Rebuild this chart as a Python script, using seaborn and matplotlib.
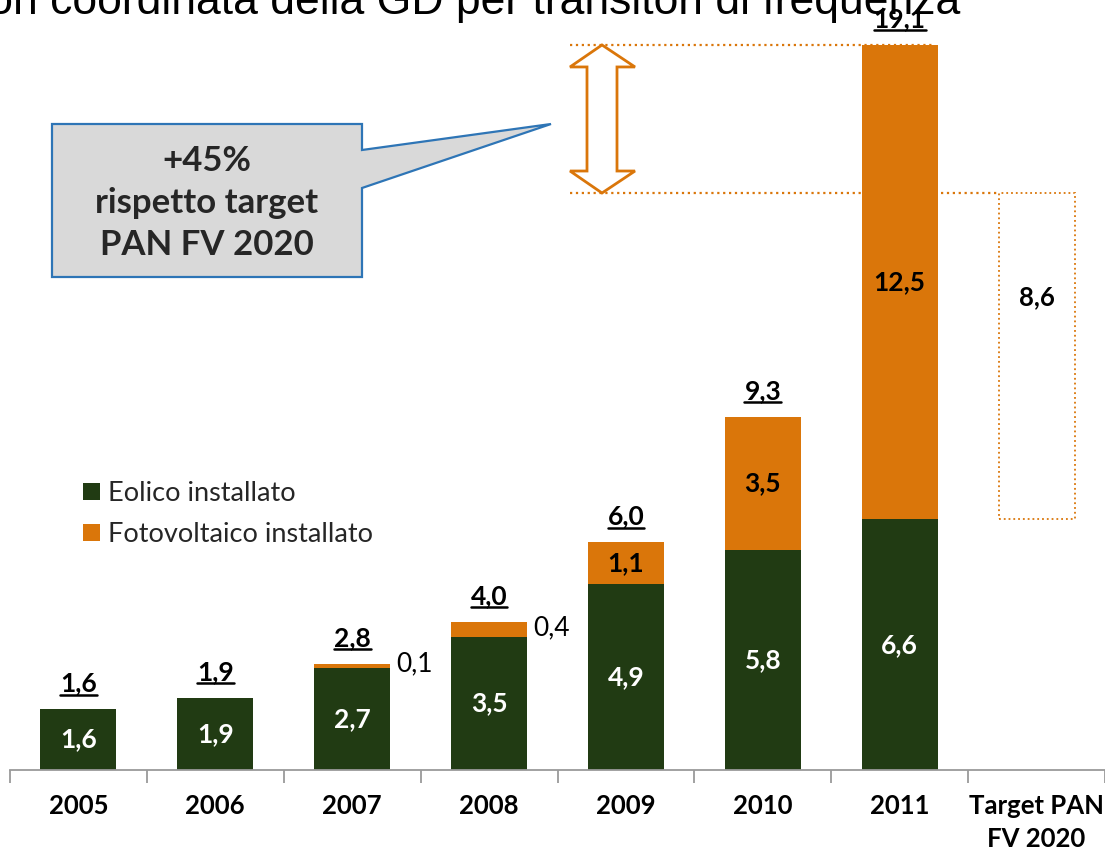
import matplotlib
matplotlib.use("Agg")
import matplotlib.pyplot as plt
import matplotlib.transforms as mtransforms
from matplotlib.patches import Polygon, Patch
from matplotlib.lines import Line2D
import seaborn as sns
import pandas as pd

# ---------------- data ----------------
categories = ["2005", "2006", "2007", "2008", "2009", "2010", "2011", "Target PAN\nFV 2020"]
eolico = [1.6, 1.9, 2.7, 3.5, 4.9, 5.8, 6.6, 0.0]
fotovoltaico = [0.0, 0.0, 0.1, 0.4, 1.1, 3.5, 12.5, 0.0]
total_labels = ["1,6", "1,9", "2,8", "4,0", "6,0", "9,3", "19,1"]
eolico_labels = ["1,6", "1,9", "2,7", "3,5", "4,9", "5,8", "6,6"]
fv_labels = ["", "", "0,1", "0,4", "1,1", "3,5", "12,5"]
target_base = 6.6
target_value = 8.6
target_label = "8,6"
series_names = ["Eolico installato", "Fotovoltaico installato"]
callout_text = "+45%\nrispetto target\nPAN FV 2020"
title_text = "Disconnessione non coordinata della GD per transitori di frequenza"

GREEN = "#213B13"
ORANGE = "#DA760A"
FONT = "Lato"

W, H = 1105, 852
sns.set_theme(style="white")
plt.rcParams["font.family"] = [FONT, "DejaVu Sans"]

fig = plt.figure(figsize=(W / 100, H / 100), dpi=100)
ax = fig.add_axes([10 / W, 1 - 770 / H, 1095 / W, 770 / H])

df = pd.DataFrame({
    "cat": categories,
    "tot": [e + f for e, f in zip(eolico, fotovoltaico)],
    "eol": eolico,
})
sns.barplot(data=df, x="cat", y="tot", order=categories, color=ORANGE,
            saturation=1, width=0.555, linewidth=0, ax=ax, errorbar=None)
sns.barplot(data=df, x="cat", y="eol", order=categories, color=GREEN,
            saturation=1, width=0.555, linewidth=0, ax=ax, errorbar=None)

# target floating box
ax.bar(7, target_value, bottom=target_base, width=0.555, fill=False,
       edgecolor=ORANGE, linestyle=":", linewidth=1.3)
ax.text(7, target_base + target_value * 0.68, target_label, ha="center", va="center",
        fontsize=18.5, fontweight="bold", color="black")

ax.set_ylim(0, 770 / 37.96)
ax.set_xlim(-0.5, 7.5)
ax.set_xlabel("")
ax.set_ylabel("")
ax.set_yticks([])
for s in ["left", "right", "top"]:
    ax.spines[s].set_visible(False)
ax.spines["bottom"].set_color("#9A9A9A")
ax.spines["bottom"].set_linewidth(1.3)
ax.set_xticks(range(len(categories)))
ax.set_xticklabels(categories, fontsize=18.5, fontweight="bold", linespacing=1.45)
ax.set_xticks([i - 0.5 for i in range(len(categories) + 1)], minor=True)
ax.tick_params(axis="x", which="major", length=0, pad=17, colors="black")
ax.tick_params(axis="x", which="minor", length=9, width=1.3, color="#9A9A9A",
               direction="out", bottom=True)
ax.patch.set_alpha(0)

# labels
totals = []
for i in range(7):
    e, f = eolico[i], fotovoltaico[i]
    ax.text(i, e / 2, eolico_labels[i], ha="center", va="center", color="white",
            fontsize=19, fontweight="bold")
    if f >= 1:
        ax.text(i, e + f / 2, fv_labels[i], ha="center", va="center", color="black",
                fontsize=19, fontweight="bold")
    elif f > 0:
        ax.text(i + 0.32, e + f / 2 + 0.05, fv_labels[i], ha="left", va="center",
                color="black", fontsize=19)
    t = ax.text(i, e + f + 0.36, total_labels[i], ha="center", va="bottom",
                color="black", fontsize=19, fontweight="bold")
    totals.append(t)

# pixel-x / data-y transform
px_x = mtransforms.Affine2D().scale(1 / W, 1) + fig.transFigure
blend = mtransforms.blended_transform_factory(px_x, ax.transData)
top_v = sum([eolico[6], fotovoltaico[6]])
tgt_v = target_base + target_value
ax.plot([570, 935], [top_v, top_v], transform=blend, color=ORANGE, ls=":", lw=1.6)
ax.plot([570, 998], [tgt_v, tgt_v], transform=blend, color=ORANGE, ls=":", lw=1.6)

hh = 22 / 37.96
arrow = [(602, top_v), (635, top_v - hh), (617, top_v - hh), (617, tgt_v + hh),
         (635, tgt_v + hh), (602, tgt_v), (570, tgt_v + hh), (587, tgt_v + hh),
         (587, top_v - hh), (570, top_v - hh)]
ax.add_patch(Polygon(arrow, closed=True, transform=blend, facecolor="white",
                     edgecolor=ORANGE, linewidth=2, clip_on=False, zorder=5))

# callout in figure pixels (y from top)
pix = mtransforms.Affine2D().scale(1 / W, -1 / H).translate(0, 1) + fig.transFigure
call = [(52, 124), (362, 124), (362, 150), (551, 124), (362, 188), (362, 277), (52, 277)]
fig.add_artist(Polygon(call, closed=True, transform=pix, facecolor="#D9D9D9",
                       edgecolor="#2E75B6", linewidth=1.6))
fig.text(207 / W, 1 - 203 / H, callout_text, ha="center", va="center", fontsize=25,
         fontweight="bold", linespacing=1.4)

# clipped title
fig.text(960 / W, 1 - 14 / H, title_text, ha="right", va="baseline", fontsize=32,
         family="Liberation Sans", color="black")

# legend
handles = [Patch(facecolor=GREEN, edgecolor="none"), Patch(facecolor=ORANGE, edgecolor="none")]
fig.legend(handles, series_names, loc="upper left", bbox_to_anchor=(72 / W, 1 - 470 / H),
           frameon=False, fontsize=19.5, handlelength=0.62, handleheight=0.62,
           handletextpad=0.3, labelspacing=0.6, borderaxespad=0)

# underline totals
fig.canvas.draw()
r = fig.canvas.get_renderer()
for t in totals:
    bb = t.get_window_extent(renderer=r)
    y = bb.y0 + 1
    fig.add_artist(Line2D([bb.x0 / W, bb.x1 / W], [y / H, y / H],
                          transform=fig.transFigure, color="black", lw=1.8))

fig.savefig("out.png", dpi=100)
